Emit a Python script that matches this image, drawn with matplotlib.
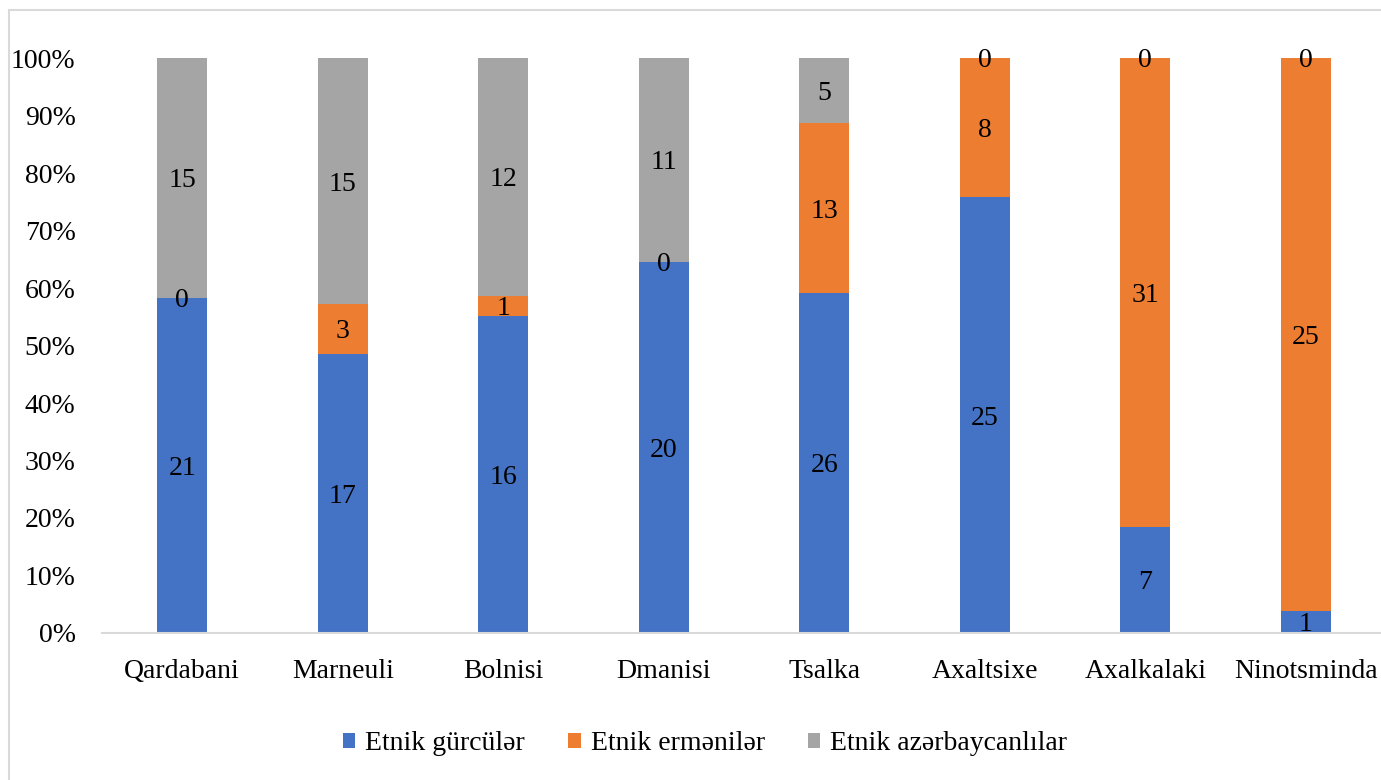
import numpy as np
import matplotlib
matplotlib.use('Agg')
from matplotlib import pyplot as plt
from matplotlib.patches import Rectangle
from matplotlib.ticker import PercentFormatter

plt.rcParams['font.family'] = ['Liberation Serif', 'DejaVu Serif']

# districts and respondent counts per ethnic group
districts = ['Qardabani', 'Marneuli', 'Bolnisi', 'Dmanisi',
             'Tsalka', 'Axaltsixe', 'Axalkalaki', 'Ninotsminda']
georgians = [21, 17, 16, 20, 26, 25, 7, 1]
armenians = [0, 3, 1, 0, 13, 8, 31, 25]
azerbaijanis = [15, 15, 12, 11, 5, 0, 0, 0]

series = [
  ('Etnik gürcülər', georgians, '#4472C4'),
  ('Etnik ermənilər', armenians, '#ED7D31'),
  ('Etnik azərbaycanlılar', azerbaijanis, '#A5A5A5'),
]

counts = np.array([s[1] for s in series], dtype=float)
totals = counts.sum(axis=0)
shares = counts / totals * 100

fig = plt.figure(figsize=(13.81, 7.8), dpi=100)
ax = fig.add_axes([0.0739, 0.1885, 0.9298, 0.737])

# light frame round the chart area
fig.patches.append(Rectangle((8.5 / 1381, -0.1), 1.2, 1.1 - 10.5 / 780,
                             transform=fig.transFigure, fill=False,
                             edgecolor='#d9d9d9', linewidth=1.5))

x = np.arange(len(districts))
bottom = np.zeros(len(districts))
for (name, vals, color), share in zip(series, shares):
  ax.bar(x, share, 0.31, bottom=bottom, color=color, label=name)
  for xi, b, s, v in zip(x, bottom, share, vals):
    ax.text(xi, b + s / 2 - 0.5, str(v), ha='center', va='center',
            fontsize=20, color='black')
  bottom += share

ax.set_xlim(-0.5, len(districts) - 0.5)
ax.set_ylim(0, 100)
ax.set_yticks(np.arange(0, 101, 10))
ax.yaxis.set_major_formatter(PercentFormatter(decimals=0))
ax.set_xticks(x)
ax.set_xticklabels(districts)
ax.tick_params(axis='both', length=0, labelsize=20)
ax.tick_params(axis='y', pad=19)
ax.tick_params(axis='x', pad=19)

for side in ['top', 'right', 'left']:
  ax.spines[side].set_visible(False)
ax.spines['bottom'].set_color('#d9d9d9')
ax.spines['bottom'].set_linewidth(1.5)

fig.legend(loc='center', bbox_to_anchor=(705 / 1381, 1 - 744 / 780),
           ncol=3, frameon=False, fontsize=20, handlelength=0.45,
           handleheight=0.45, handletextpad=0.36, columnspacing=1.55)

fig.savefig('out.png', dpi=100)
